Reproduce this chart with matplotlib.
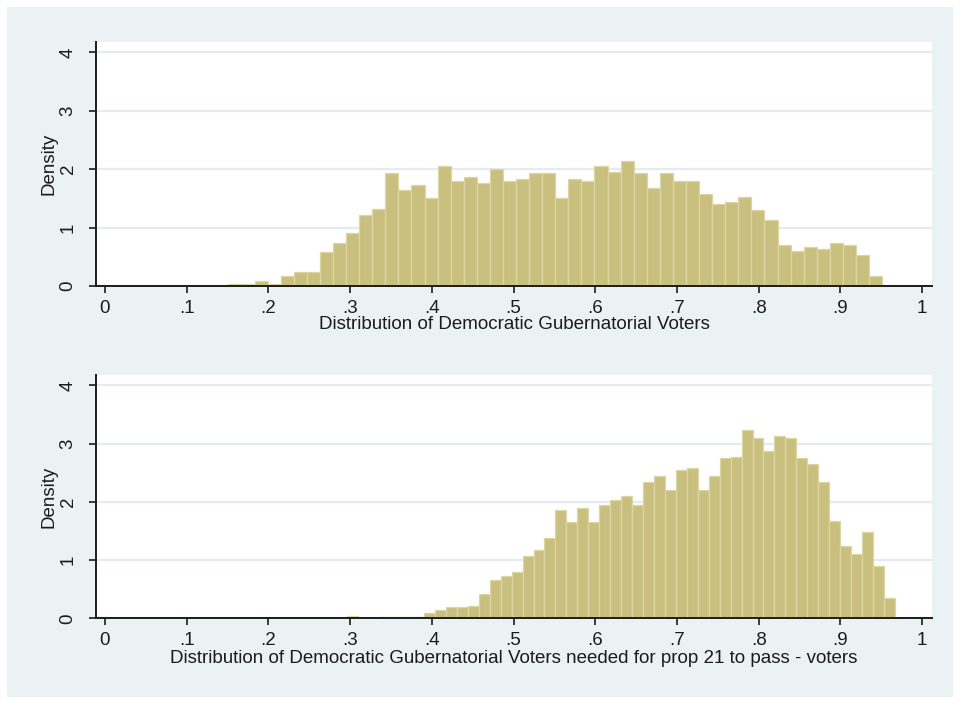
import matplotlib
matplotlib.use("Agg")
import matplotlib.pyplot as plt
import numpy as np
from matplotlib.patches import Rectangle

# histogram of the share of Democratic gubernatorial voters (50 bins)
gov_bin_start = 0.151
gov_bin_width = 0.0160
gov_density = [
    0.04, 0.04, 0.08, 0.03, 0.17, 0.24, 0.24, 0.59, 0.73, 0.90,
    1.21, 1.32, 1.93, 1.65, 1.73, 1.51, 2.05, 1.80, 1.87, 1.76,
    2.00, 1.80, 1.83, 1.93, 1.93, 1.51, 1.84, 1.79, 2.05, 1.96,
    2.14, 1.93, 1.68, 1.93, 1.79, 1.79, 1.58, 1.41, 1.44, 1.52,
    1.30, 1.13, 0.70, 0.60, 0.67, 0.63, 0.74, 0.70, 0.53, 0.17,
]

# share needed for prop 21 to pass (50 bins)
prop_bin_start = 0.2966
prop_bin_width = 0.0134
prop_density = [
    0.04, 0.00, 0.00, 0.03, 0.03, 0.03, 0.03, 0.09, 0.14, 0.20,
    0.20, 0.21, 0.42, 0.66, 0.73, 0.80, 1.07, 1.18, 1.38, 1.86,
    1.66, 1.89, 1.66, 1.95, 2.03, 2.10, 1.95, 2.34, 2.45, 2.21,
    2.55, 2.58, 2.21, 2.45, 2.75, 2.78, 3.23, 3.09, 2.88, 3.13,
    3.09, 2.75, 2.65, 2.34, 1.68, 1.25, 1.10, 1.48, 0.90, 0.35,
]

x_ticks = [0, 0.1, 0.2, 0.3, 0.4, 0.5, 0.6, 0.7, 0.8, 0.9, 1.0]
x_tick_labels = ["0", ".1", ".2", ".3", ".4", ".5", ".6", ".7", ".8", ".9", "1"]
y_ticks = [0, 1, 2, 3, 4]

top_xlabel = "Distribution of Democratic Gubernatorial Voters"
bottom_xlabel = "Distribution of Democratic Gubernatorial Voters needed for prop 21 to pass - voters"

BG = "#EAF2F3"
GRID = "#E3EDF0"
BAR = "#C9C080"
BAR_EDGE = "#DCD5A4"
INK = "#1c1c1c"

plt.rcParams["font.family"] = ["Liberation Sans", "DejaVu Sans"]
plt.rcParams["font.size"] = 13.5

fig = plt.figure(figsize=(9.6, 7.03), dpi=100)
fig.patch.set_facecolor("white")
# light graph region behind both panels
fig.patches.append(Rectangle((7 / 960, 6 / 703), 946 / 960, 690 / 703,
                             transform=fig.transFigure, facecolor=BG,
                             edgecolor="none", zorder=-10))


def draw_hist(ax, start, width, dens, label, label_y):
    lefts = start + width * np.arange(len(dens))
    ax.bar(lefts, dens, width=width, align="edge", color=BAR,
           edgecolor=BAR_EDGE, linewidth=0.9, zorder=2)
    ax.set_facecolor("white")
    ax.set_xlim(-0.011, 1.012)
    ax.set_ylim(0, 4.18)
    ax.set_xticks(x_ticks)
    ax.set_xticklabels(x_tick_labels)
    ax.set_yticks(y_ticks)
    ax.set_yticklabels([str(v) for v in y_ticks], rotation=90, va="center")
    ax.yaxis.grid(True, color=GRID, linewidth=1.6)
    ax.set_axisbelow(True)
    for side in ["top", "right"]:
        ax.spines[side].set_visible(False)
    for side in ["left", "bottom"]:
        ax.spines[side].set_color(INK)
        ax.spines[side].set_linewidth(1.4)
    ax.tick_params(axis="both", direction="out", length=5, width=1.2,
                   colors=INK, labelcolor=INK)
    ax.tick_params(axis="x", pad=5)
    ax.tick_params(axis="y", pad=9)
    ax.set_ylabel("Density", color=INK, va="center")
    ax.yaxis.set_label_coords(-0.056, 0.5)
    ax.set_xlabel(label, color=INK, va="top")
    ax.xaxis.set_label_coords(0.5, label_y)


ax_top = fig.add_axes([0.100, 0.5932, 0.8708, 0.3471])
draw_hist(ax_top, gov_bin_start, gov_bin_width, gov_density, top_xlabel, -0.122)

ax_bot = fig.add_axes([0.100, 0.1202, 0.8708, 0.3464])
draw_hist(ax_bot, prop_bin_start, prop_bin_width, prop_density, bottom_xlabel, -0.128)

fig.savefig("out.png", dpi=100, facecolor=fig.get_facecolor())
